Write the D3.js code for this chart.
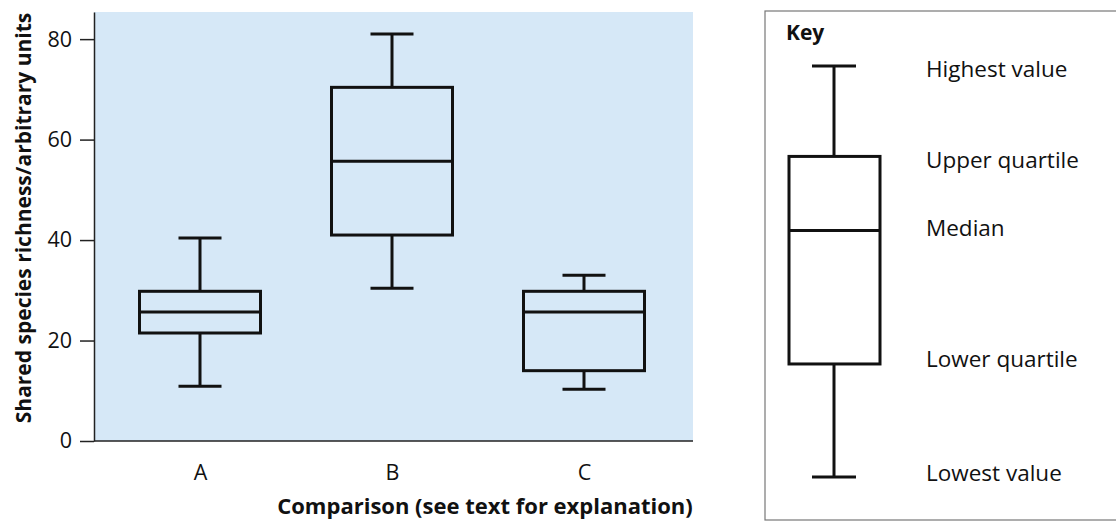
<!DOCTYPE html>
<html>
<head>
<meta charset="utf-8">
<script src="https://cdn.jsdelivr.net/npm/d3@7"></script>
<style>
  body { margin: 0; background: #fff; }
  text { font-family: "Open Sans", "Noto Sans", sans-serif; fill: #111; }
</style>
</head>
<body>
<div id="chart"></div>
<script>
// comparison groups and their five-number summaries
const groups = ["A", "B", "C"];
const lowest = [10.9, 30.4, 10.3];
const lowerQuartile = [21.5, 41.0, 14.0];
const median = [25.7, 55.7, 25.7];
const upperQuartile = [29.8, 70.4, 29.8];
const highest = [40.4, 81.0, 33.0];
const yTicks = [0, 20, 40, 60, 80];

// illustrative box for the key
const keyLabels = ["Highest value", "Upper quartile", "Median", "Lower quartile", "Lowest value"];
const keyValues = [100, 78, 60, 27.5, 0];

const W = 1116, H = 532;
const m = {t: 12, l: 94, r: 423, b: 91};
const pw = W - m.l - m.r, ph = H - m.t - m.b;

const svg = d3.select("#chart").append("svg")
    .attr("width", W).attr("height", H);

const g = svg.append("g").attr("transform", "translate(" + m.l + "," + m.t + ")");

// plot background
g.append("rect").attr("width", pw).attr("height", ph).attr("fill", "#d6e8f7");

const x = d3.scalePoint().domain(groups).range([106, 490]);
const y = d3.scaleLinear().domain([0, 85.4]).range([ph, 0]);

const boxW = 121, capW = 43;

const data = groups.map((k, i) => ({
    k: k, lo: lowest[i], q1: lowerQuartile[i], med: median[i], q3: upperQuartile[i], hi: highest[i]
}));

const boxes = g.selectAll(".box").data(data).enter().append("g").attr("class", "box")
    .attr("stroke", "#111").attr("stroke-width", 3).attr("fill", "none");

// whiskers
boxes.append("line").attr("x1", d => x(d.k)).attr("x2", d => x(d.k))
    .attr("y1", d => y(d.hi)).attr("y2", d => y(d.q3));
boxes.append("line").attr("x1", d => x(d.k)).attr("x2", d => x(d.k))
    .attr("y1", d => y(d.q1)).attr("y2", d => y(d.lo));
// caps
boxes.append("line").attr("x1", d => x(d.k) - capW / 2).attr("x2", d => x(d.k) + capW / 2)
    .attr("y1", d => y(d.hi)).attr("y2", d => y(d.hi));
boxes.append("line").attr("x1", d => x(d.k) - capW / 2).attr("x2", d => x(d.k) + capW / 2)
    .attr("y1", d => y(d.lo)).attr("y2", d => y(d.lo));
// box + median
boxes.append("rect").attr("x", d => x(d.k) - boxW / 2).attr("width", boxW)
    .attr("y", d => y(d.q3)).attr("height", d => y(d.q1) - y(d.q3));
boxes.append("line").attr("x1", d => x(d.k) - boxW / 2).attr("x2", d => x(d.k) + boxW / 2)
    .attr("y1", d => y(d.med)).attr("y2", d => y(d.med));

// y axis
const yAxis = g.append("g")
    .call(d3.axisLeft(y).tickValues(yTicks).tickSize(14).tickSizeOuter(0).tickPadding(8));
yAxis.select(".domain").attr("stroke", "#222").attr("stroke-width", 1.5);
yAxis.selectAll(".tick line").attr("stroke", "#222").attr("stroke-width", 1.5);
yAxis.selectAll(".tick text").attr("font-size", 21.5).attr("font-family", "Open Sans");

// x axis
const xAxis = g.append("g").attr("transform", "translate(0," + ph + ")")
    .call(d3.axisBottom(x).tickSize(0).tickPadding(24));
xAxis.select(".domain").attr("d", "M0,0H" + pw).attr("stroke", "#222").attr("stroke-width", 1.5);
xAxis.selectAll(".tick text").attr("font-size", 21.5).attr("font-family", "Open Sans");

// axis titles
svg.append("text").attr("x", 485).attr("y", 514).attr("text-anchor", "middle")
    .attr("font-size", 22).attr("font-weight", "bold").text("Comparison (see text for explanation)");
svg.append("text").attr("transform", "translate(31,218) rotate(-90)").attr("text-anchor", "middle")
    .attr("font-size", 21).attr("font-weight", "bold").text("Shared species richness/arbitrary units");

// key panel
const key = svg.append("g");
key.append("rect").attr("x", 765).attr("y", 11).attr("width", 360).attr("height", 509)
    .attr("fill", "#fff").attr("stroke", "#777").attr("stroke-width", 1.2);
key.append("text").attr("x", 786).attr("y", 40).attr("font-size", 21).attr("font-weight", "bold").text("Key");

const ky = d3.scaleLinear().domain([0, 100]).range([477, 66]);
const kx = 834;
const kb = key.append("g").attr("stroke", "#111").attr("stroke-width", 3).attr("fill", "none");
kb.append("line").attr("x1", kx).attr("x2", kx).attr("y1", ky(keyValues[0])).attr("y2", ky(keyValues[1]));
kb.append("line").attr("x1", kx).attr("x2", kx).attr("y1", ky(keyValues[3])).attr("y2", ky(keyValues[4]));
kb.append("line").attr("x1", kx - 22).attr("x2", kx + 22).attr("y1", ky(keyValues[0])).attr("y2", ky(keyValues[0]));
kb.append("line").attr("x1", kx - 22).attr("x2", kx + 22).attr("y1", ky(keyValues[4])).attr("y2", ky(keyValues[4]));
kb.append("rect").attr("x", kx - 45).attr("width", 91)
    .attr("y", ky(keyValues[1])).attr("height", ky(keyValues[3]) - ky(keyValues[1]));
kb.append("line").attr("x1", kx - 45).attr("x2", kx + 46).attr("y1", ky(keyValues[2])).attr("y2", ky(keyValues[2]));

// key labels, nudged beside each marker
const labelShift = [3, 4, -2, -5, -4];
key.selectAll(".klab").data(keyLabels).enter().append("text").attr("class", "klab")
    .attr("x", 926).attr("y", (d, i) => ky(keyValues[i]) + labelShift[i])
    .attr("dy", "0.35em").attr("font-size", 22.5).text(d => d);
</script>
</body>
</html>
